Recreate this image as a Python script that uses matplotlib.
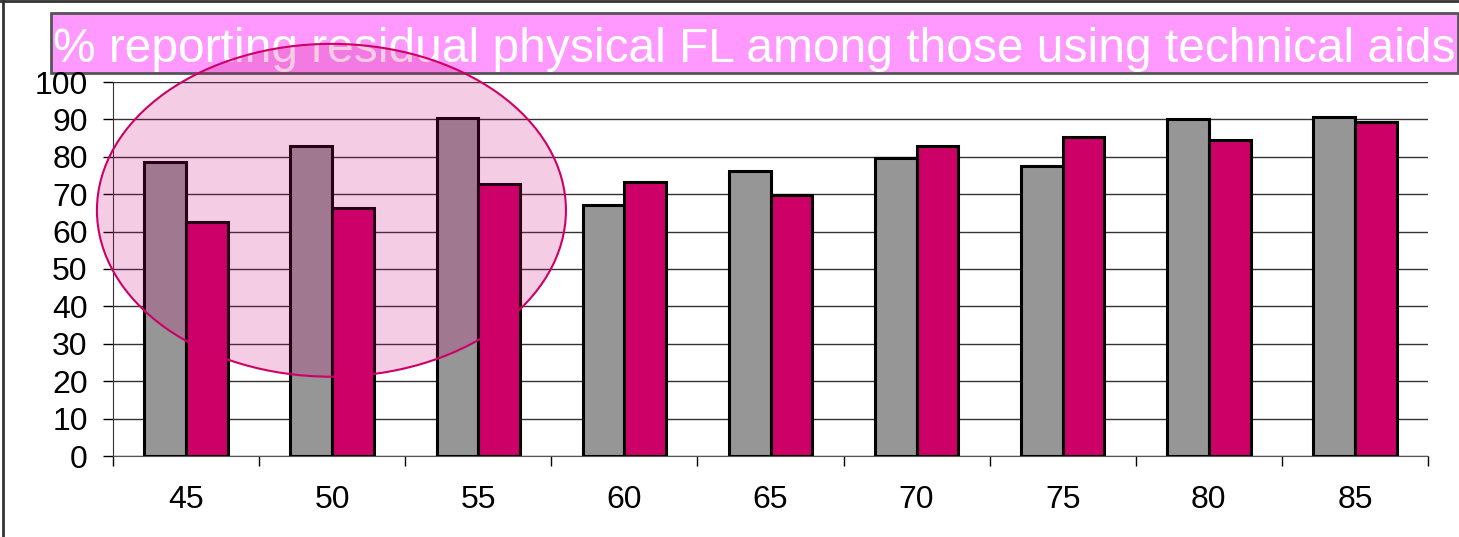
import matplotlib
matplotlib.use('Agg')
import matplotlib.pyplot as plt
import matplotlib.patches as patches
from matplotlib.lines import Line2D
import numpy as np

plt.rcParams['font.family'] = ['Liberation Sans', 'DejaVu Sans']

ages = ['45', '50', '55', '60', '65', '70', '75', '80', '85']
grey_vals = [78.7, 82.9, 90.5, 67.0, 76.3, 79.8, 77.5, 90.0, 90.6]
pink_vals = [62.7, 66.2, 72.7, 73.3, 69.8, 82.9, 85.3, 84.6, 89.4]
title = '% reporting residual physical FL among those using technical aids'

GREY = '#969696'
PINK = '#CC0066'

fig = plt.figure(figsize=(14.59, 5.37), dpi=100)
ax = fig.add_axes([113/1459, 81/537, 1315/1459, 374/537])
ax.set_facecolor('none')

x = np.arange(len(ages))
w = 1 / 3.5
ax.bar(x - w/2, grey_vals, w, color=GREY, edgecolor='black', linewidth=2.2, zorder=3)
ax.bar(x + w/2, pink_vals, w, color=PINK, edgecolor='black', linewidth=2.2, zorder=3)

ax.set_xlim(-0.5, len(ages) - 0.5)
ax.set_ylim(0, 100)
ax.set_yticks(np.arange(0, 101, 10))
ax.tick_params(axis='y', labelsize=23, length=7.2, width=1, pad=11, direction='out')
ax.set_xticks(np.arange(-0.5, len(ages), 1.0))
ax.set_xticklabels([])
ax.tick_params(axis='x', which='major', length=7.2, width=1, direction='out')
ax.set_xticks(x, minor=True)
ax.set_xticklabels(ages, minor=True)
ax.tick_params(axis='x', which='minor', length=0, labelsize=23, pad=21)

ax.yaxis.grid(True, color='#333333', linewidth=1, zorder=0)
ax.set_axisbelow(True)
for s in ['top', 'right']:
    ax.spines[s].set_visible(False)
ax.spines['left'].set_color('#333333')
ax.spines['bottom'].set_color('#555555')

# highlighted ellipse over the first three age groups
ell = patches.Ellipse((0.995, 65.7), 3.21, 89, facecolor=(0.8, 0.0, 0.45, 0.2),
                      edgecolor=PINK, linewidth=1.5, clip_on=False, zorder=10)
ax.add_patch(ell)

# title box
box = patches.Rectangle((51/1459, 464/537), 1407/1459, 60/537, transform=fig.transFigure,
                        facecolor='#FF99FF', edgecolor='#555555', linewidth=2, zorder=-2)
fig.patches.append(box)
fig.text(754/1459, 475/537, title, color='white', fontsize=34.5, ha='center', va='baseline', zorder=-1)

# outer frame
fig.add_artist(Line2D([3/1459, 3/1459], [0, 1], transform=fig.transFigure, color='#333333', lw=2))
fig.add_artist(Line2D([0, 1], [536/537, 536/537], transform=fig.transFigure, color='#333333', lw=2))

fig.savefig('out.png', dpi=100)
